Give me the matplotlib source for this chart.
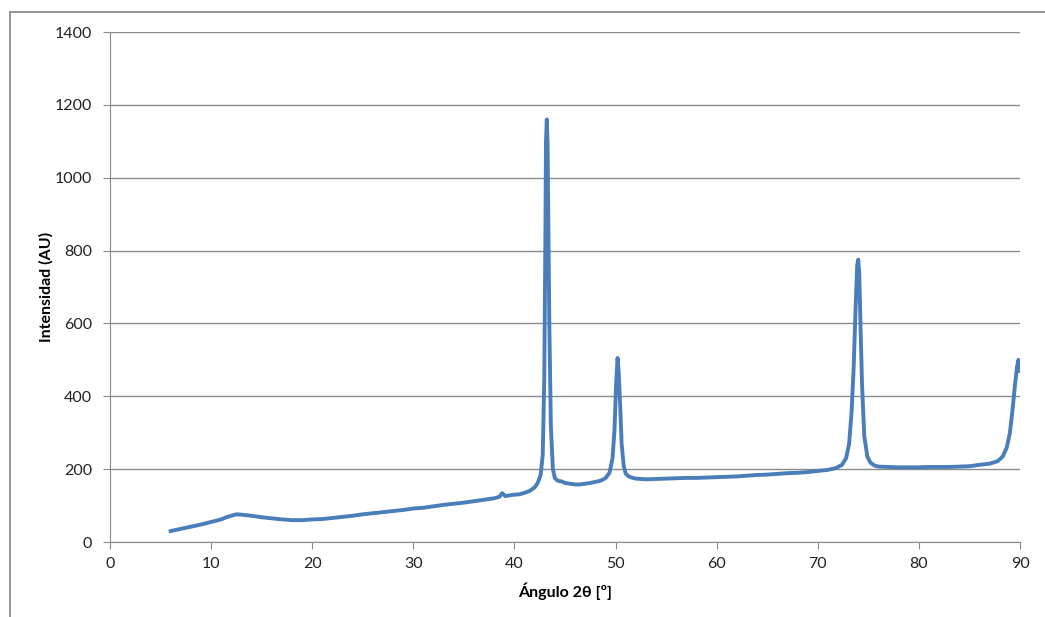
import matplotlib.pyplot as plt
from matplotlib.lines import Line2D

# 2theta (deg) and intensity
angle = [6.0, 7.0, 8.0, 9.0, 10.0, 11.0, 11.5, 12.0, 12.5, 13.0, 14.0, 15.0, 16.0, 17.0,
         18.0, 19.0, 20.0, 21.0, 22.0, 23.0, 24.0, 25.0, 26.0, 27.0, 28.0, 29.0, 30.0,
         31.0, 32.0, 33.0, 34.0, 35.0, 36.0, 37.0, 38.0, 38.5, 38.8, 39.1, 39.5, 40.0,
         40.5, 41.0, 41.5, 42.0, 42.3, 42.6, 42.8, 42.95, 43.05, 43.12, 43.2, 43.28,
         43.35, 43.45, 43.6, 43.8, 44.0, 44.3, 44.7, 45.0, 45.5, 46.0, 46.5, 47.0, 47.5,
         48.0, 48.5, 49.0, 49.4, 49.7, 49.9, 50.05, 50.2, 50.3, 50.45, 50.6, 50.8, 51.0,
         51.3, 51.7, 52.0, 53.0, 54.0, 55.0, 56.0, 57.0, 58.0, 59.0, 60.0, 61.0, 62.0,
         63.0, 64.0, 65.0, 66.0, 67.0, 68.0, 69.0, 70.0, 71.0, 71.8, 72.4, 72.8, 73.1,
         73.35, 73.55, 73.75, 73.9, 74.0, 74.1, 74.22, 74.38, 74.6, 74.9, 75.2, 75.6,
         76.0, 77.0, 78.0, 79.0, 80.0, 81.0, 82.0, 83.0, 84.0, 85.0, 86.0, 87.0, 87.8,
         88.3, 88.7, 89.0, 89.25, 89.5, 89.7, 89.85, 90.0]
intensity = [30, 36, 42, 48, 55, 62, 68, 72, 76, 75, 72, 68, 65, 62,
             60, 60, 62, 63, 66, 69, 72, 76, 79, 82, 85, 88, 92,
             94, 98, 102, 105, 108, 112, 116, 120, 124, 134, 126, 128, 130,
             131, 135, 140, 150, 162, 185, 240, 450, 800, 1100, 1160, 1090,
             900, 600, 320, 200, 175, 168, 166, 162, 160, 158, 158, 160, 162,
             165, 168, 175, 190, 230, 310, 430, 505, 470, 380, 270, 210, 188,
             180, 176, 174, 172, 173, 174, 175, 176, 176, 177, 178, 179, 180,
             182, 184, 185, 187, 189, 190, 192, 195, 198, 203, 212, 230, 270,
             360, 480, 650, 760, 775, 740, 600, 430, 290, 235, 218, 210,
             207, 206, 205, 205, 205, 206, 206, 206, 207, 208, 212, 215, 222,
             235, 260, 300, 360, 430, 480, 500, 470]

xticks = [0, 10, 20, 30, 40, 50, 60, 70, 80, 90]
yticks = [0, 200, 400, 600, 800, 1000, 1200, 1400]

plt.rcParams['font.family'] = ['Lato', 'DejaVu Sans']

fig = plt.figure(figsize=(10.45, 6.17), dpi=100)
ax = fig.add_axes([110 / 1045, 75 / 617, 910 / 1045, 510 / 617])

ax.plot(angle, intensity, color='#4a7ebb', lw=2.8, solid_joinstyle='round')

ax.set_xlim(0, 90)
ax.set_ylim(0, 1400)
ax.set_xticks(xticks)
ax.set_yticks(yticks)
ax.grid(axis='y', color='#8c8c8c', lw=1)
ax.set_axisbelow(True)

for s in ['top', 'right']:
    ax.spines[s].set_visible(False)
for s in ['left', 'bottom']:
    ax.spines[s].set_color('#8c8c8c')
ax.tick_params(axis='both', color='#8c8c8c', length=5, labelsize=11.5, labelcolor='#222222')
ax.tick_params(axis='x', pad=6)
ax.tick_params(axis='y', pad=8)

ax.set_xlabel('Ángulo 2θ [º]', fontsize=11.5, fontweight='bold', labelpad=8)
ax.set_ylabel('Intensidad (AU)', fontsize=11.5, fontweight='bold', labelpad=1)

# outer chart frame (cropped on right/bottom)
fig.add_artist(Line2D([10 / 1045, 10 / 1045], [0, 1 - 12 / 617], color='#8c8c8c', lw=1.3))
fig.add_artist(Line2D([10 / 1045, 1], [1 - 12 / 617, 1 - 12 / 617], color='#8c8c8c', lw=1.3))

fig.savefig('out.png', dpi=100)
